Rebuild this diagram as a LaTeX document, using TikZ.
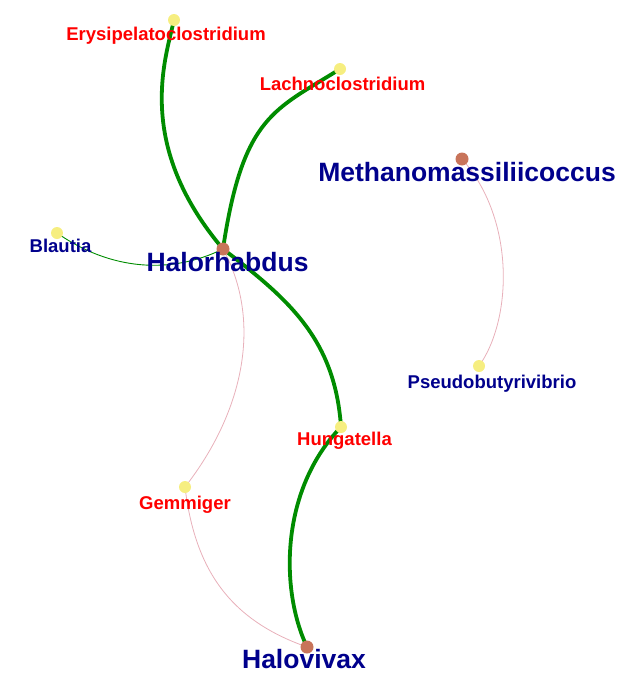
\documentclass[tikz,border=0pt]{standalone}
\usepackage{fontspec}
\setmainfont{Liberation Sans}
\usetikzlibrary{backgrounds}
\definecolor{edgegreen}{RGB}{0,140,0}
\definecolor{edgepink}{RGB}{232,176,186}
\definecolor{dotyellow}{RGB}{246,238,128}
\definecolor{dotbrown}{RGB}{200,116,90}
\definecolor{labelnavy}{RGB}{0,0,140}
\definecolor{labelred}{RGB}{255,0,0}

\begin{document}
\begin{tikzpicture}[x=1pt, y=-1pt,
    leaf/.style={circle, fill=dotyellow, inner sep=0pt, minimum size=12pt},
    hub/.style={circle, fill=dotbrown, inner sep=0pt, minimum size=13pt},
    small/.style={anchor=base, inner sep=0pt, font=\fontsize{18.5}{20}\selectfont\bfseries},
    big/.style={anchor=base, inner sep=0pt, font=\fontsize{26.5}{29}\selectfont\bfseries, text=labelnavy},
    strong/.style={draw=edgegreen, line width=3.8pt},
    weak/.style={draw=edgegreen, line width=0.9pt},
    faint/.style={draw=edgepink, line width=0.8pt}]
    \useasboundingbox (0,0) rectangle (626,683);

    % vertices
    \node[leaf] (ery) at (174,20) {};
    \node[leaf] (lachno) at (340,69) {};
    \node[hub] (methano) at (462,159) {};
    \node[leaf] (blautia) at (57,233) {};
    \node[hub] (halor) at (223,249) {};
    \node[leaf] (pseudo) at (479,366) {};
    \node[leaf] (hunga) at (341,427) {};
    \node[leaf] (gemm) at (185,487) {};
    \node[hub] (halov) at (307,647) {};

    % labels
    \node[small, text=labelred] (ery-l) at (166,40.5) {Erysipelatoclostridium};
    \node[small, text=labelred] (lachno-l) at (342.5,90.5) {Lachnoclostridium};
    \node[big] (methano-l) at (467,181) {Methanomassiliicoccus};
    \node[small, text=labelnavy] (blautia-l) at (60.5,252.5) {Blautia};
    \node[big] (halor-l) at (227.5,271) {Halorhabdus};
    \node[small, text=labelnavy] (pseudo-l) at (492,388.5) {Pseudobutyrivibrio};
    \node[small, text=labelred] (hunga-l) at (344.5,445.5) {Hungatella};
    \node[small, text=labelred] (gemm-l) at (185,509.5) {Gemmiger};
    \node[big] (halov-l) at (304,668) {Halovivax};

    % edges
    \begin{scope}[on background layer]
        \draw[strong] (halor.center) .. controls (135,145) and (165,60) .. (ery.center);
        \draw[strong] (halor.center) .. controls (243,115) and (275,110) .. (lachno.center);
        \draw[strong] (halor.center) .. controls (290,300) and (335,340) .. (hunga.center);
        \draw[strong] (hunga.center) .. controls (280,490) and (280,590) .. (halov.center);
        \draw[weak] (blautia.center) .. controls (110,270) and (170,275) .. (halor.center);
        \draw[faint] (halor.center) .. controls (262,320) and (245,410) .. (gemm.center);
        \draw[faint] (gemm.center) .. controls (195,570) and (230,620) .. (halov.center);
        \draw[faint] (methano.center) .. controls (516,220) and (512,320) .. (pseudo.center);
    \end{scope}
\end{tikzpicture}
\end{document}
